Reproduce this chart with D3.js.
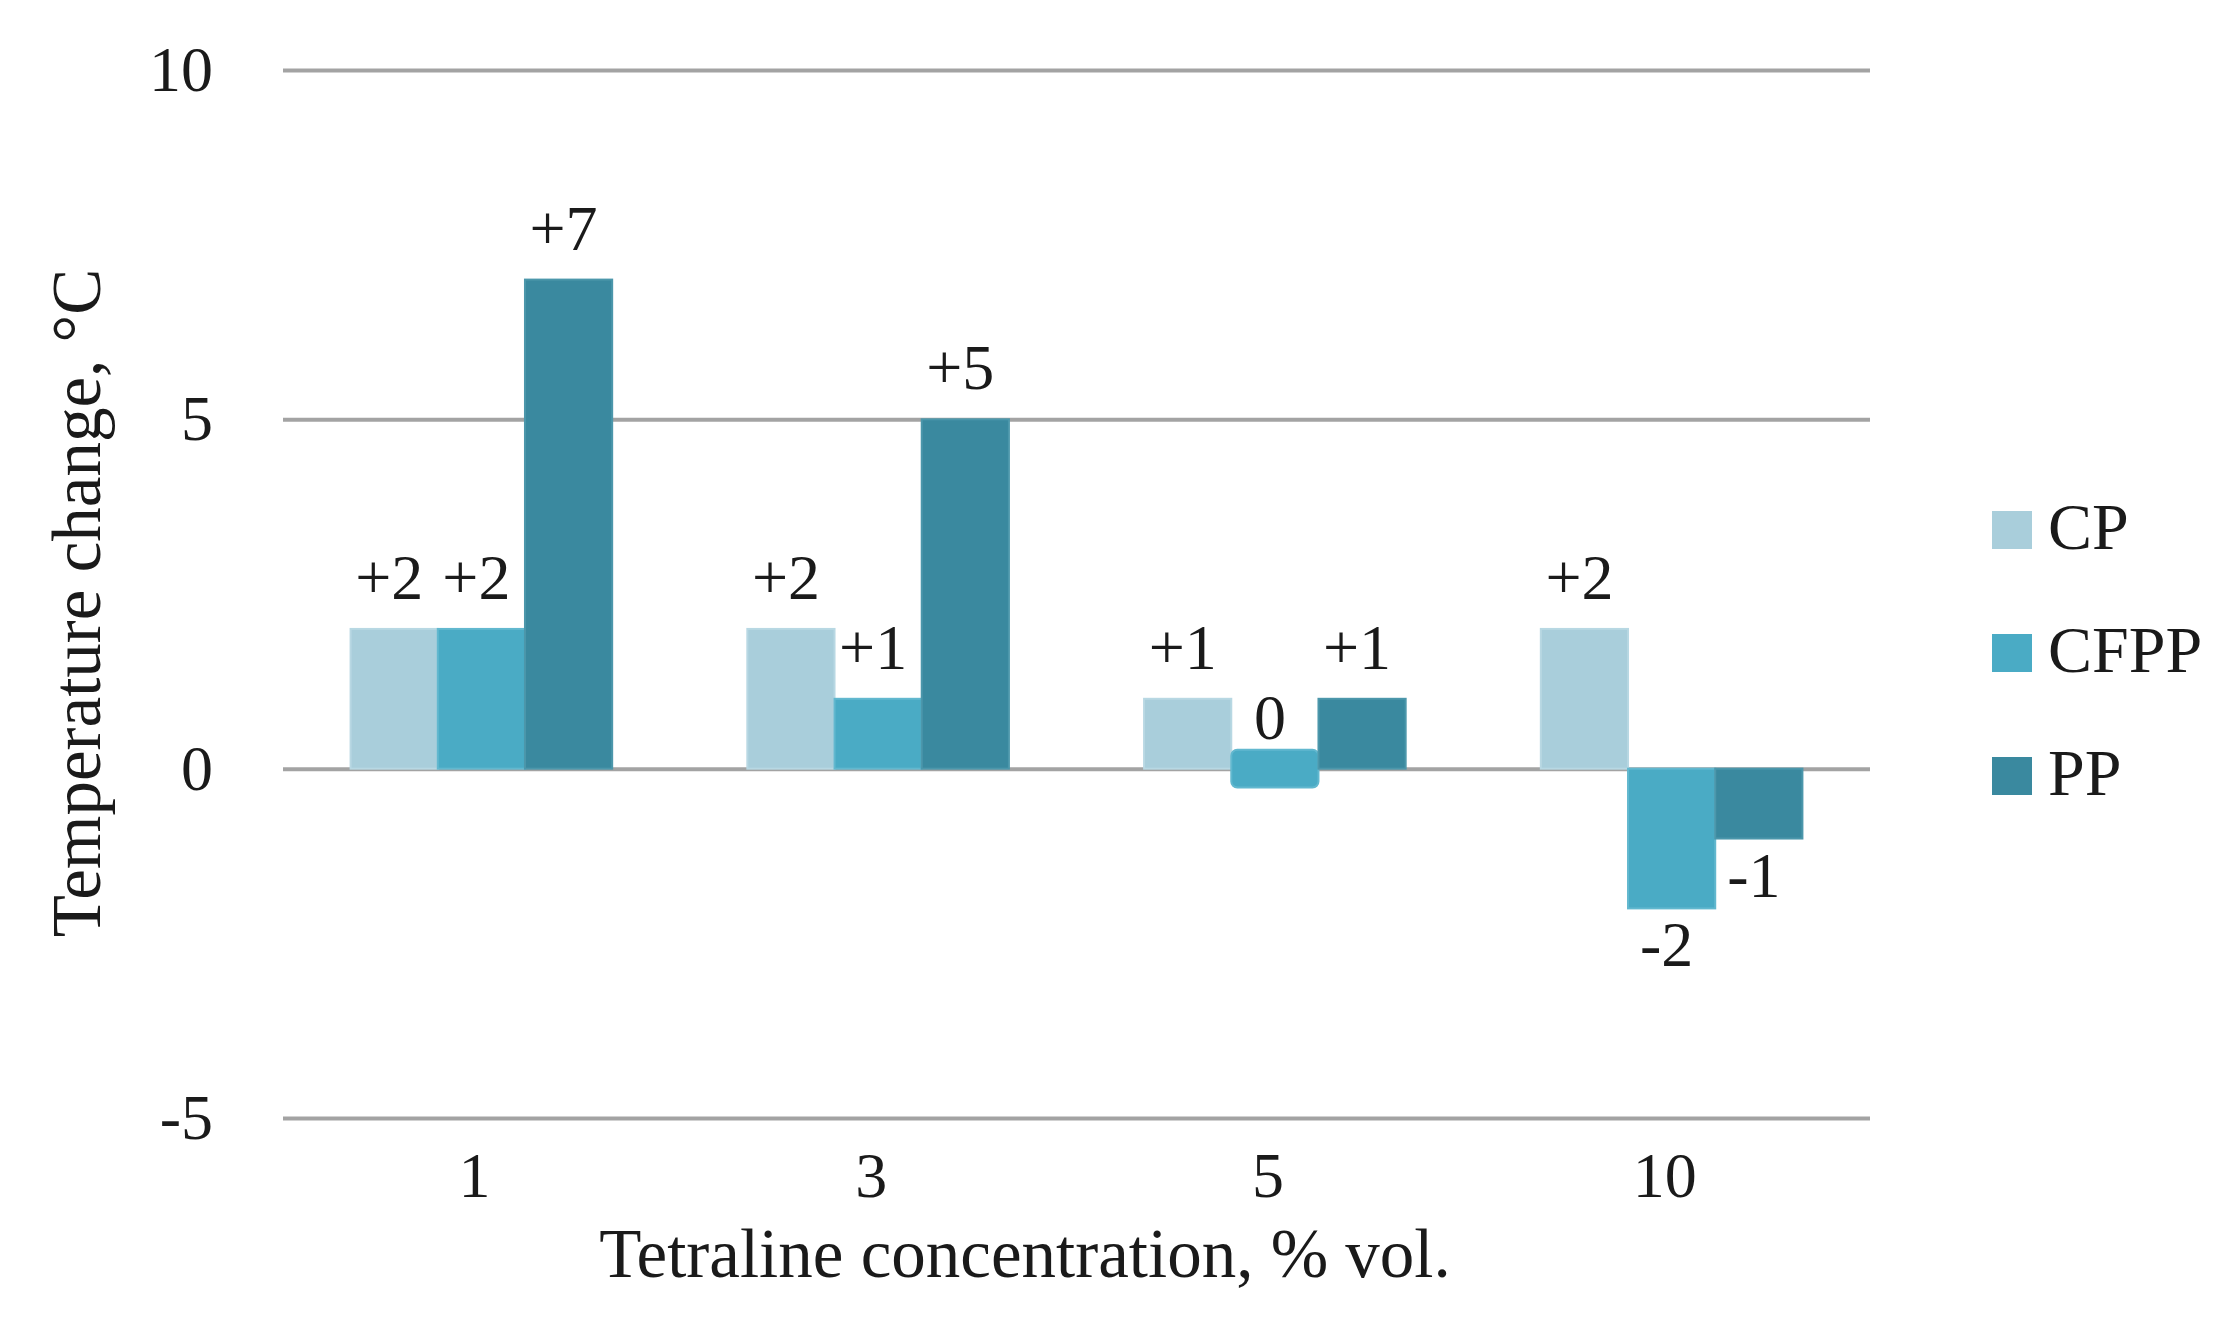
<!DOCTYPE html>
<html>
<head>
<meta charset="utf-8">
<script src="https://cdn.jsdelivr.net/npm/d3@7"></script>
<style>
  body { margin: 0; background: #fff; }
  text { font-family: "Liberation Serif", "DejaVu Serif", serif; fill: #1a1a1a; }
  .domain { display: none; }
</style>
</head>
<body>
<div id="chart"></div>
<script>
// Data
var categories = ["1", "3", "5", "10"];
var seriesNames = ["CP", "CFPP", "PP"];
var cpValues = [2, 2, 1, 2];
var cfppValues = [2, 1, 0, -2];
var ppValues = [7, 5, 1, -1];
var yTicks = [-5, 0, 5, 10];
var colors = ["#a9cedb", "#4aabc5", "#3a899f"];
var strokes = ["#b8d8e3", "#62b8cf", "#4c97ab"];

var svgWidth = 2234;
var svgHeight = 1320;

var margin = { top: 70, right: 364, bottom: 202, left: 283 };
var width = svgWidth - margin.left - margin.right;
var height = svgHeight - margin.top - margin.bottom;

var svg = d3.select("#chart")
  .append("svg")
  .attr("width", svgWidth)
  .attr("height", svgHeight);

var chartGroup = svg.append("g")
  .attr("transform", `translate(${margin.left}, ${margin.top})`);

var seriesValues = [cpValues, cfppValues, ppValues];
var rows = categories.map(function(c, i) {
  return { cat: c, values: seriesNames.map(function(s, j) { return { name: s, idx: j, value: seriesValues[j][i] }; }) };
});

// Scales
var x0 = d3.scaleBand().domain(categories).range([0, width]).paddingInner(0);
var x1 = d3.scaleBand().domain(seriesNames).range([0, x0.bandwidth()]).paddingInner(0).paddingOuter(0.775);
var y = d3.scaleLinear().domain([-5, 10]).range([height, 0]);

// Gridlines + y labels
var leftAxis = d3.axisLeft(y).tickValues(yTicks).tickSize(-width).tickPadding(70)
  .tickFormat(function(d) { return String(d); });
var yAxisG = chartGroup.append("g").call(leftAxis);
yAxisG.selectAll(".tick line").attr("stroke", "#a3a3a3").attr("stroke-width", 4);
yAxisG.selectAll(".tick text").attr("font-size", 64).attr("fill", "#1a1a1a");

// Bars
var groups = chartGroup.selectAll(".cat")
  .data(rows)
  .enter()
  .append("g")
  .attr("class", "cat")
  .attr("transform", function(d) { return `translate(${x0(d.cat)}, 0)`; });

var zeroHalf = y(0) - y(0.27);

groups.selectAll("rect")
  .data(function(d) { return d.values; })
  .enter()
  .append("rect")
  .attr("x", function(d) { return x1(d.name); })
  .attr("width", x1.bandwidth())
  .attr("y", function(d) { return d.value === 0 ? y(0) - zeroHalf : y(Math.max(0, d.value)); })
  .attr("height", function(d) { return d.value === 0 ? zeroHalf * 2 : Math.abs(y(d.value) - y(0)); })
  .attr("rx", function(d) { return d.value === 0 ? 6 : 0; })
  .attr("fill", function(d) { return colors[d.idx]; })
  .attr("stroke", function(d) { return strokes[d.idx]; })
  .attr("stroke-width", 2);

// Value labels
groups.selectAll(".val")
  .data(function(d) { return d.values; })
  .enter()
  .append("text")
  .attr("class", "val")
  .attr("text-anchor", "middle")
  .attr("font-size", 64)
  .attr("x", function(d) { return x1(d.name) + x1.bandwidth() / 2 - 5; })
  .attr("y", function(d) { return d.value >= 0 ? y(d.value) - 30 : y(d.value) + 58; })
  .text(function(d) { return d.value > 0 ? "+" + d.value : String(d.value); });

// X axis labels (no line)
var bottomAxis = d3.axisBottom(x0).tickSize(0).tickPadding(0);
var xAxisG = chartGroup.append("g")
  .attr("transform", `translate(-7, ${height})`)
  .call(bottomAxis);
xAxisG.selectAll(".tick text")
  .attr("font-size", 64)
  .attr("fill", "#1a1a1a")
  .attr("dy", null)
  .attr("y", 79);

// Axis titles
svg.append("text")
  .attr("transform", "translate(100, 603) rotate(-90)")
  .attr("text-anchor", "middle")
  .attr("font-size", 69)
  .text("Temperature change, °C");

svg.append("text")
  .attr("x", 1025)
  .attr("y", 1277)
  .attr("text-anchor", "middle")
  .attr("font-size", 69)
  .text("Tetraline concentration, % vol.");

// Legend
var legend = svg.append("g").attr("transform", "translate(1992, 530)");
var items = legend.selectAll("g")
  .data(seriesNames)
  .enter()
  .append("g")
  .attr("transform", function(d, i) { return `translate(0, ${i * 123})`; });

items.append("rect")
  .attr("x", 0)
  .attr("y", -19)
  .attr("width", 40)
  .attr("height", 38)
  .attr("fill", function(d, i) { return colors[i]; });

items.append("text")
  .attr("x", 56)
  .attr("y", 19)
  .attr("font-size", 66)
  .text(function(d) { return d; });
</script>
</body>
</html>
